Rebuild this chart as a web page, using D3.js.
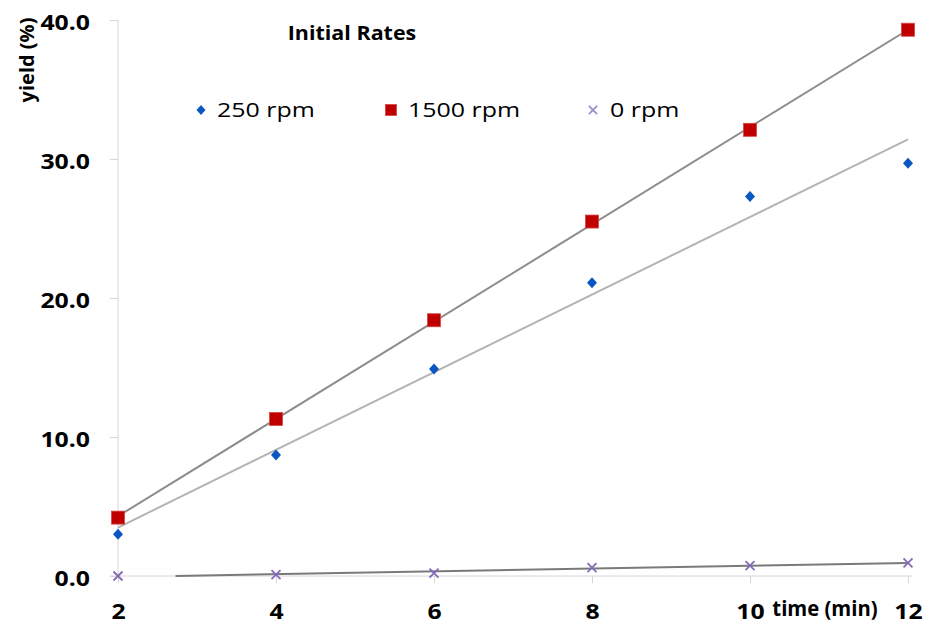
<!DOCTYPE html>
<html>
<head>
<meta charset="utf-8">
<script src="https://cdn.jsdelivr.net/npm/d3@7"></script>
<style>
  html, body { margin: 0; padding: 0; background: #fff; }
  svg { display: block; }
  text { font-family: "Open Sans", "Liberation Sans", sans-serif; fill: #000; }
</style>
</head>
<body>
<svg id="chart" width="927" height="626"></svg>
<script>
// Reaction yield vs time at three stirring speeds
const times = [2, 4, 6, 8, 10, 12];
const yield250 = [3.0, 8.7, 14.9, 21.1, 27.3, 29.7];
const yield1500 = [4.2, 11.3, 18.4, 25.5, 32.1, 39.3];
const yield0 = [0.0, 0.1, 0.2, 0.6, 0.75, 0.95];
const xTicks = [2, 4, 6, 8, 10, 12];
const yTicks = [0, 10, 20, 30, 40];
const seriesNames = ["250 rpm", "1500 rpm", "0 rpm"];

const svg = d3.select("#chart");
const x = d3.scaleLinear().domain([2, 12]).range([118, 908]);
const y = d3.scaleLinear().domain([0, 40]).range([576, 20]);

// Text helper: places a horizontally widened label
function label(parent, px, py, str, size, weight, sx, anchor) {
  return parent.append("text")
    .attr("transform", `translate(${px},${py}) scale(${sx},1)`)
    .attr("text-anchor", anchor || "start")
    .attr("dy", "0.36em")
    .style("font-size", size + "px")
    .style("font-weight", weight)
    .text(str);
}

// Axes
const axisColor = "#d6d6d6";
const yAxis = svg.append("g").attr("transform", `translate(${x(2)},0)`)
  .call(d3.axisLeft(y).tickValues(yTicks).tickSize(8).tickFormat(d3.format(".1f")));
yAxis.select(".domain").attr("stroke", axisColor).attr("d", `M0,${y(40)}V${y(0)}`);
yAxis.selectAll(".tick line").attr("stroke", axisColor);
yAxis.selectAll(".tick text")
  .attr("x", 0).attr("dy", "0.4em")
  .attr("transform", "translate(-28,1) scale(1.18,1)")
  .style("font-size", "21px").style("font-weight", "700");

const xAxis = svg.append("g").attr("transform", `translate(0,${y(0)})`)
  .call(d3.axisBottom(x).tickValues(xTicks).tickSize(7).tickFormat(d3.format("d")));
xAxis.select(".domain").attr("stroke", axisColor).attr("d", `M${x(2) - 8},0H${x(12) + 4}`);
xAxis.selectAll(".tick line").attr("stroke", axisColor);
xAxis.selectAll(".tick text")
  .attr("y", 0).attr("dy", "0.36em")
  .attr("transform", "translate(0,35) scale(1.18,1)")
  .style("font-size", "21px").style("font-weight", "700");

// Axis titles and chart title
svg.append("text").attr("transform", `translate(27,60) rotate(-90)`)
  .attr("text-anchor", "middle").attr("dy", "0.35em")
  .style("font-size", "20px").style("font-weight", "700").text("yield (%)");
label(svg, 825, 609, "time (min)", 20.5, 700, 0.99, "middle");
label(svg, 352, 33, "Initial Rates", 19, 700, 1.13, "middle");

// Least-squares trend lines
function fit(xs, ys) {
  const mx = d3.mean(xs), my = d3.mean(ys);
  const sxy = d3.sum(xs, (v, i) => (v - mx) * (ys[i] - my));
  const sxx = d3.sum(xs, v => (v - mx) * (v - mx));
  const b = sxy / sxx;
  return { a: my - b * mx, b };
}
function trend(ys, color) {
  const f = fit(times, ys);
  let x0 = 2;
  if (f.a + f.b * x0 < 0) x0 = -f.a / f.b; // clip at y = 0
  const pts = [[x0, f.a + f.b * x0], [12, f.a + f.b * 12]];
  svg.append("path")
    .attr("d", d3.line().x(d => x(d[0])).y(d => y(d[1]))(pts))
    .attr("stroke", color).attr("stroke-width", 2).attr("fill", "none");
}
trend(yield1500, "#8c8c8c");
trend(yield250, "#b4b4b4");
trend(yield0, "#7a7a7a");

// Markers
const blue = "#0a56c2", red = "#c00000", purple = "#8668b8";
function drawDiamond(g, cx, cy, s) {
  s = s || 1;
  g.append("path").attr("d", `M0,${-5.5 * s}L${5 * s},0L0,${5.5 * s}L${-5 * s},0Z`)
    .attr("transform", `translate(${cx},${cy})`).attr("fill", blue);
}
function drawSquare(g, cx, cy, s) {
  const h = 6.5 * (s || 1);
  g.append("rect").attr("x", cx - h).attr("y", cy - h).attr("width", 2 * h).attr("height", 2 * h)
    .attr("fill", red).attr("stroke", "#d64545").attr("stroke-width", 0.8);
}
function drawCross(g, cx, cy, s, color) {
  const h = 4.5 * (s || 1);
  g.append("path").attr("d", `M${cx - h},${cy - h}L${cx + h},${cy + h}M${cx + h},${cy - h}L${cx - h},${cy + h}`)
    .attr("stroke", color || purple).attr("stroke-width", 1.8).attr("fill", "none");
}
const marks = svg.append("g");
times.forEach((t, i) => drawCross(marks, x(t), y(yield0[i])));
times.forEach((t, i) => drawDiamond(marks, x(t), y(yield250[i])));
times.forEach((t, i) => drawSquare(marks, x(t), y(yield1500[i])));

// Legend
const legend = svg.append("g");
const legendY = 110;
drawDiamond(legend, 201, legendY, 0.9);
drawSquare(legend, 391, legendY, 0.85);
drawCross(legend, 593, legendY, 0.9, "#a08ccc");
label(legend, 217, legendY, seriesNames[0], 19.5, 400, 1.28);
label(legend, 408, legendY, seriesNames[1], 19.5, 400, 1.28);
label(legend, 610, legendY, seriesNames[2], 19.5, 400, 1.28);
</script>
</body>
</html>
